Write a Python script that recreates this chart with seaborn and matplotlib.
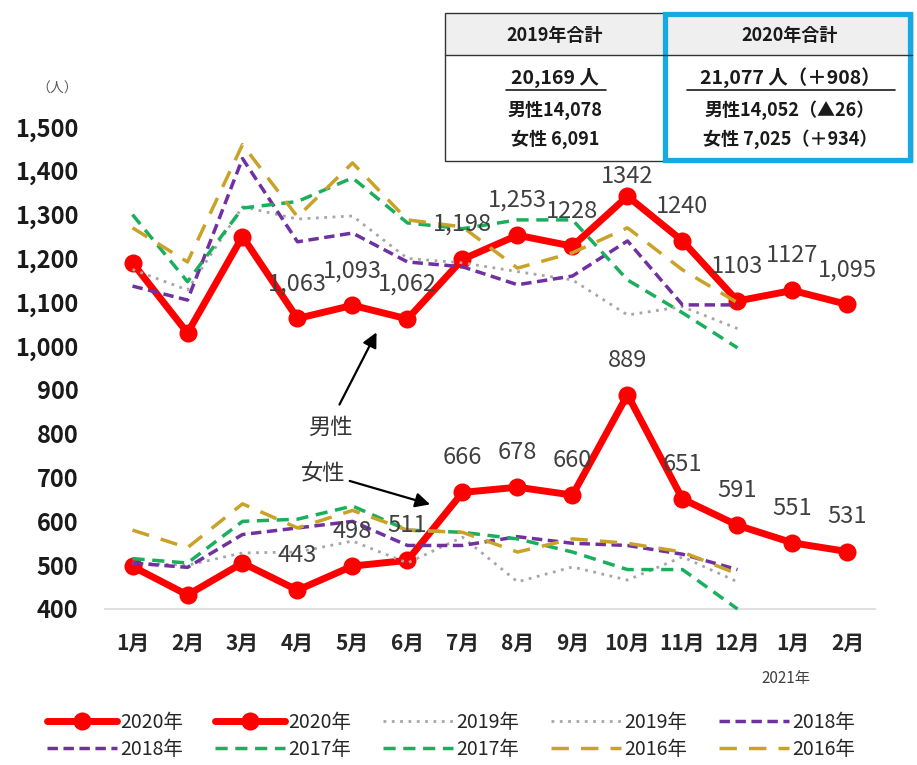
import numpy as np
import pandas as pd
import matplotlib.pyplot as plt
import matplotlib.patches as mpatches
from matplotlib.ticker import FuncFormatter
import seaborn as sns

# ── Style ─────────────────────────────────────────────────────────────────────
sns.set_theme(style="white")
plt.rcParams["font.family"] = ["Noto Sans CJK JP", "DejaVu Sans"]

# ── Data ──────────────────────────────────────────────────────────────────────
MONTHS = ["1月", "2月", "3月", "4月", "5月", "6月", "7月", "8月", "9月",
          "10月", "11月", "12月", "1月", "2月"]

male_2020 = [1190, 1030, 1250, 1063, 1093, 1062, 1198, 1253, 1228, 1342, 1240, 1103, 1127, 1095]
female_2020 = [497, 432, 505, 443, 498, 511, 666, 678, 660, 889, 651, 591, 551, 531]

# the original labels some male values without thousands separator
male_2020_labels = ["", "", "", "1,063", "1,093", "1,062", "1,198", "1,253",
                    "1228", "1342", "1240", "1103", "1127", "1,095"]
female_2020_labels = ["", "", "", "443", "498", "511", "666", "678",
                      "660", "889", "651", "591", "551", "531"]

male_2019 = [1175, 1128, 1318, 1290, 1297, 1200, 1190, 1170, 1151, 1071, 1090, 1040]
female_2019 = [505, 500, 528, 530, 555, 505, 564, 462, 496, 466, 519, 462]

male_2018 = [1137, 1105, 1428, 1238, 1258, 1192, 1181, 1140, 1160, 1240, 1094, 1094]
female_2018 = [505, 495, 570, 585, 600, 545, 545, 565, 550, 545, 525, 490]

male_2017 = [1300, 1147, 1315, 1330, 1384, 1281, 1268, 1288, 1288, 1151, 1076, 996]
female_2017 = [515, 505, 600, 605, 635, 580, 575, 560, 530, 490, 490, 400]

male_2016 = [1270, 1192, 1460, 1295, 1418, 1288, 1272, 1178, 1213, 1270, 1174, 1099]
female_2016 = [580, 540, 640, 585, 625, 580, 575, 530, 560, 550, 530, 480]

# (legend label, values, colour, linestyle, linewidth)
SERIES = [
    ("2020年", male_2020, "#ff0000", "-", 5),
    ("2020年", female_2020, "#ff0000", "-", 5),
    ("2019年", male_2019, "#a6a6a6", (0, (1, 2)), 2),
    ("2019年", female_2019, "#a6a6a6", (0, (1, 2)), 2),
    ("2018年", male_2018, "#7030a0", (0, (3, 1.6)), 2.5),
    ("2018年", female_2018, "#7030a0", (0, (3, 1.6)), 2.5),
    ("2017年", male_2017, "#1aaf5d", (0, (3.5, 2.2)), 2.5),
    ("2017年", female_2017, "#1aaf5d", (0, (3.5, 2.2)), 2.5),
    ("2016年", male_2016, "#c9a227", (0, (5, 3.5)), 2.5),
    ("2016年", female_2016, "#c9a227", (0, (5, 3.5)), 2.5),
]

# ── Figure ────────────────────────────────────────────────────────────────────
W, H = 917, 765
fig = plt.figure(figsize=(W / 100, H / 100), dpi=100)
ax = fig.add_axes([105 / W, (H - 609) / H, 770 / W, 482 / H])

for label, vals, color, ls, lw in SERIES:
    df = pd.DataFrame({"idx": np.arange(len(vals)), "value": vals})
    is_2020 = label == "2020年"
    sns.lineplot(data=df, x="idx", y="value", ax=ax, color=color,
                 linestyle=ls, linewidth=lw,
                 marker="o" if is_2020 else None,
                 markersize=13 if is_2020 else 0,
                 markeredgewidth=0,
                 label=label, zorder=2 if is_2020 else 3,
                 clip_on=False)

ax.set_xlim(-0.5, 13.5)
ax.set_ylim(400, 1500)
ax.set_xticks(range(len(MONTHS)))
ax.set_xticklabels(MONTHS, fontsize=15, fontweight="bold", color="#262626")
ax.set_yticks(range(400, 1501, 100))
ax.yaxis.set_major_formatter(FuncFormatter(lambda v, p: f"{int(v):,}"))
for t in ax.get_yticklabels():
    t.set_fontsize(17)
    t.set_fontweight("bold")
    t.set_color("#1a1a1a")
ax.tick_params(axis="x", length=0, pad=17)
ax.tick_params(axis="y", length=0, pad=19)
ax.set_xlabel("")
ax.set_ylabel("")
for side in ["top", "right", "left"]:
    ax.spines[side].set_visible(False)
ax.spines["bottom"].set_color("#d9d9d9")
ax.spines["bottom"].set_linewidth(1.2)

# data labels for 2020
for vals, texts in ((male_2020, male_2020_labels), (female_2020, female_2020_labels)):
    for j, (v, txt) in enumerate(zip(vals, texts)):
        if not txt:
            continue
        dy = 14 if (vals is male_2020 and j == 9) else 25
        ax.annotate(txt, xy=(j, v), xytext=(0, dy), textcoords="offset points",
                    ha="center", va="center", fontsize=17, color="#404040", zorder=5)

# 男性 / 女性 arrows
ax.text(3.59, 815, "男性", fontsize=16, color="#333333", ha="center", va="center")
ax.annotate("", xy=(4.46, 1037), xytext=(3.74, 861),
            arrowprops=dict(arrowstyle="-|>", color="black", lw=1.6, mutation_scale=22))
ax.text(3.46, 710, "女性", fontsize=16, color="#333333", ha="center", va="center")
ax.annotate("", xy=(5.46, 637), xytext=(3.90, 694),
            arrowprops=dict(arrowstyle="-|>", color="black", lw=1.6, mutation_scale=22))

# legend (row-major order like the original)
handles, labels = ax.get_legend_handles_labels()
if ax.get_legend() is not None:
    ax.get_legend().remove()
order = [0, 5, 1, 6, 2, 7, 3, 8, 4, 9]
fig.legend([handles[k] for k in order], [labels[k] for k in order],
           loc="center", bbox_to_anchor=(451 / W, 1 - 736 / H), ncol=5,
           frameon=False, fontsize=14, handlelength=3.6, handletextpad=0.2,
           columnspacing=1.6, labelspacing=0.3)

# ── Overlay in pixel coords: unit, 2021年, summary table ─────────────────────
ov = fig.add_axes([0, 0, 1, 1], zorder=10)
ov.set_xlim(0, W)
ov.set_ylim(H, 0)
ov.axis("off")
ov.patch.set_alpha(0)

ov.text(57, 89, "（人）", fontsize=10, color="#595959", ha="center", va="center")
ov.text(786, 678, "2021年", fontsize=11, color="#404040", ha="center", va="center")

# table
ov.add_patch(mpatches.Rectangle((445, 13), 467, 42, facecolor="#efefef", edgecolor="none"))
ov.add_patch(mpatches.Rectangle((445, 13), 467, 148, facecolor="none", edgecolor="#333333", lw=1))
ov.plot([445, 912], [55, 55], color="#333333", lw=1)
ov.add_patch(mpatches.Rectangle((665, 14), 245, 146, facecolor="none", edgecolor="#17a9e1", lw=3.8))

txt_kw = dict(fontweight="bold", ha="center", va="center", color="#1a1a1a")
ov.text(555, 35, "2019年合計", fontsize=13, **txt_kw)
ov.text(790, 35, "2020年合計", fontsize=13, **txt_kw)
ov.text(555, 78, "20,169 人", fontsize=14, **txt_kw)
ov.plot([506, 606], [90, 90], color="#1a1a1a", lw=1.2)
ov.text(790, 78, "21,077 人（＋908）", fontsize=14, **txt_kw)
ov.plot([687, 895], [90, 90], color="#1a1a1a", lw=1.2)
ov.text(555, 110, "男性14,078", fontsize=13, **txt_kw)
ov.text(555, 139, "女性 6,091", fontsize=13, **txt_kw)
ov.text(790, 110, "男性14,052（▲26）", fontsize=13, **txt_kw)
ov.text(790, 139, "女性 7,025（＋934）", fontsize=13, **txt_kw)

fig.savefig("out.png", dpi=100)
